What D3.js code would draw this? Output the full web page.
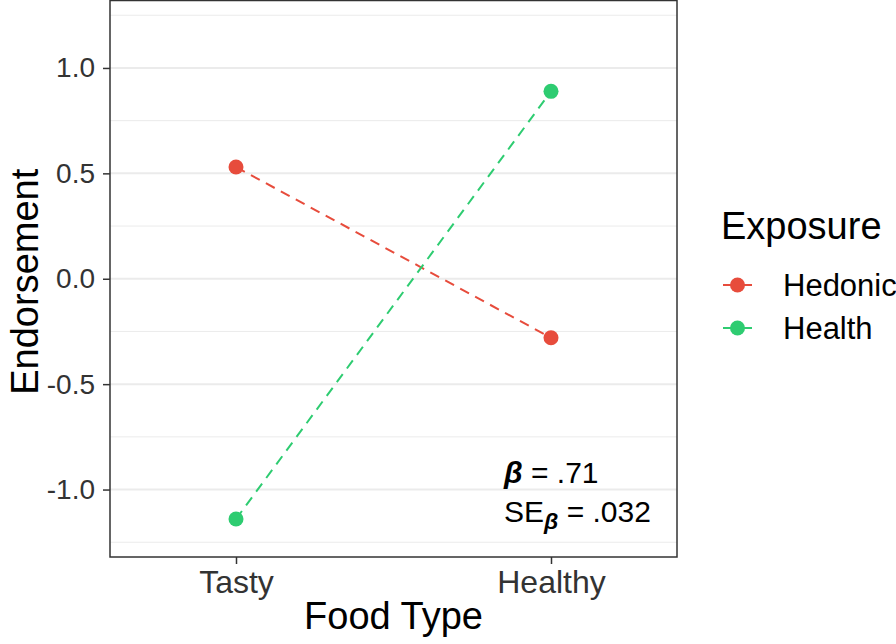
<!DOCTYPE html>
<html><head><meta charset="utf-8">
<script src="https://cdn.jsdelivr.net/npm/d3@7"></script>
<style>body{margin:0;background:#fff}text{font-family:"Liberation Sans",Arial,sans-serif}</style>
</head><body>
<svg id="c" width="896" height="644"></svg>
<script>
const categories = ["Tasty", "Healthy"];
const seriesNames = ["Hedonic", "Health"];
const hedonicValues = [0.53, -0.28];
const healthValues = [-1.14, 0.889];
const yTicks = [-1.0, -0.5, 0.0, 0.5, 1.0];
const yTickLabels = ["-1.0", "-0.5", "0.0", "0.5", "1.0"];
const yMinorTicks = [-1.25, -0.75, -0.25, 0.25, 0.75, 1.25];
const colors = ["#E74C3C", "#2ECC71"];

const series = [
  {name: seriesNames[0], values: hedonicValues, color: colors[0]},
  {name: seriesNames[1], values: healthValues, color: colors[1]}
];

const svg = d3.select("#c");
const L = 110, R = 677, T = 0.5, B = 557;
const x = d3.scalePoint().domain(categories).range([L, R]).padding(0.4);
const y = d3.scaleLinear().domain([-1.32, 1.32]).range([B, T]);

const g = svg.append("g");
// minor grid
g.selectAll(".mg").data(yMinorTicks).join("line")
  .attr("x1", L).attr("x2", R).attr("y1", d => y(d)).attr("y2", d => y(d))
  .attr("stroke", "#ebebeb").attr("stroke-width", 1);
// major grid
g.selectAll(".Mg").data(yTicks).join("line")
  .attr("x1", L).attr("x2", R).attr("y1", d => y(d)).attr("y2", d => y(d))
  .attr("stroke", "#ebebeb").attr("stroke-width", 2);

// lines
const line = d3.line().x((d, i) => x(categories[i])).y(d => y(d));
series.forEach(s => {
  g.append("path").attr("d", line(s.values)).attr("fill", "none")
    .attr("stroke", s.color).attr("stroke-width", 2).attr("stroke-dasharray", "10,7");
});
series.forEach(s => {
  g.selectAll(null).data(s.values).join("circle")
    .attr("cx", (d, i) => x(categories[i])).attr("cy", d => y(d)).attr("r", 7.5)
    .attr("fill", s.color);
});

// border
g.append("rect").attr("x", L).attr("y", T).attr("width", R - L).attr("height", B - T)
  .attr("fill", "none").attr("stroke", "#333333").attr("stroke-width", 1.5);

// axes
const yAxis = d3.axisLeft(y).tickValues(yTicks).tickFormat((d, i) => yTickLabels[i]).tickSize(7).tickPadding(8);
const ya = svg.append("g").attr("transform", `translate(${L},0)`).call(yAxis);
ya.select(".domain").remove();
ya.selectAll("line").attr("stroke", "#333").attr("stroke-width", 1.5);
ya.selectAll("text").attr("font-size", 28).attr("fill", "#333").attr("font-family", "Liberation Sans, Arial, sans-serif");

const xAxis = d3.axisBottom(x).tickSize(7).tickPadding(6);
const xa = svg.append("g").attr("transform", `translate(0,${B})`).call(xAxis);
xa.select(".domain").remove();
xa.selectAll("line").attr("stroke", "#333").attr("stroke-width", 1.5);
xa.selectAll("text").attr("font-size", 32).attr("fill", "#333").attr("font-family", "Liberation Sans, Arial, sans-serif");

// titles
svg.append("text").attr("x", (L + R) / 2 - 0).attr("y", 629).attr("text-anchor", "middle")
  .attr("font-size", 38).text("Food Type");
svg.append("text").attr("transform", `translate(38,${(T + B) / 2 + 3}) rotate(-90)`).attr("text-anchor", "middle")
  .attr("font-size", 38).text("Endorsement");

// legend
svg.append("text").attr("x", 721).attr("y", 239).attr("font-size", 38).text("Exposure");
series.forEach((s, i) => {
  const cy = 285 + i * 43;
  svg.append("line").attr("x1", 723).attr("x2", 752).attr("y1", cy).attr("y2", cy)
    .attr("stroke", s.color).attr("stroke-width", 2);
  svg.append("circle").attr("cx", 737.5).attr("cy", cy).attr("r", 7.5).attr("fill", s.color);
  svg.append("text").attr("x", 783).attr("y", cy + 11).attr("font-size", 31).text(s.name);
});

// annotation
const a1 = svg.append("text").attr("x", 504).attr("y", 483).attr("font-size", 30);
a1.append("tspan").attr("font-weight", "bold").attr("font-style", "italic").text("β");
a1.append("tspan").text(" = .71");
const a2 = svg.append("text").attr("x", 504).attr("y", 522).attr("font-size", 30);
a2.append("tspan").text("SE");
a2.append("tspan").attr("font-weight", "bold").attr("font-style", "italic").attr("font-size", 23).attr("dy", 7).text("β");
a2.append("tspan").attr("dy", -7).text(" = .032");
</script>
</body></html>
